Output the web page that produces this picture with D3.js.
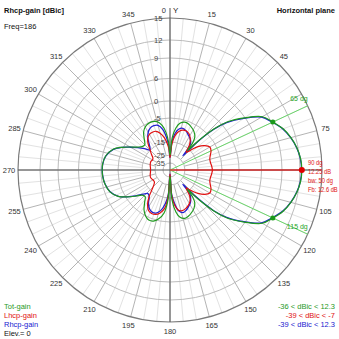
<!DOCTYPE html>
<html><head><meta charset="utf-8">
<script src="https://cdn.jsdelivr.net/npm/d3@7"></script>
<style>html,body{margin:0;padding:0;background:#fff;} text{font-family:'Liberation Sans',Arial,sans-serif;}</style>
</head><body><svg id="c" width="339" height="339"></svg>
<script>
// ---- data (angle in degrees, clockwise from top; gains in dBic) ----
const angles=[0,4,8,12,17,22,27,32,37,40,42,44,47,50,55,60,65,70,75,80,85,90,95,100,105,110,115,120,125,130,133,136,138,140,143,148,153,158,163,168,172,176,180,184,188,193,198,203,208,213,218,223,228,233,238,243,250,258,265,270,275,282,290,295,300,305,310,315,320,325,330,335,340,345,350,354,357];
const totGain=[-25,-13,-9,-6.8,-5.8,-6,-6.8,-7.8,-9.5,-12,-16.5,-10,-2.5,1.5,5.8,8.2,9.25,10.4,11.2,11.8,12.15,12.25,12.15,11.8,11.2,10.4,9.25,8.2,5.8,1.5,-2.5,-10,-16.5,-12,-9.5,-7.8,-6.8,-6,-5.6,-6.5,-9,-14,-36,-14,-8.5,-5.8,-4.5,-4.3,-5,-6.8,-9.5,-11.5,-11,-8.5,-5.5,-3.2,-1.5,-0.7,-0.4,-0.35,-0.4,-0.9,-2.5,-4.5,-7.5,-10,-11.5,-11.8,-10,-7.5,-6,-5.3,-5.2,-5.8,-7.8,-11,-15];
const lhcpGain=[-28,-17,-12.5,-10.5,-9.3,-9,-9.5,-10.8,-13,-15.5,-18,-17,-14,-11.5,-9,-7.5,-7.8,-8.8,-9.5,-9.5,-9.2,-9,-9.2,-9.5,-9.5,-8.8,-7.8,-7.5,-9,-11.5,-13.5,-16,-18,-16,-13,-11,-10,-9.3,-9,-9.5,-11.5,-16,-39,-16,-10.5,-8.3,-7.2,-7,-7.6,-9.5,-12.5,-16.5,-20,-21.5,-21.5,-21,-20.5,-21,-21.5,-21.5,-21.5,-21,-20.5,-20.5,-21,-20.5,-18,-15,-12.5,-10.5,-9.5,-9.3,-9.5,-10.8,-13,-16,-20];
const rhcpGain=[-28,-14.9,-11.2,-9.3,-8.5,-9,-10.1,-11,-12.3,-14.5,-21.8,-11,-2.8,1.28,5.65,8.08,9.16,10.35,11.16,11.77,12.12,12.22,12.12,11.77,11.16,10.35,9.16,8.08,5.65,1.28,-2.86,-11.26,-21.8,-14,-12.4,-10.6,-9.6,-8.6,-8.1,-9.3,-12.4,-17.5,-39,-17.5,-12.5,-9.3,-7.8,-7.6,-8.4,-10.2,-12.6,-13.2,-11.6,-8.7,-5.6,-3.25,-1.53,-0.73,-0.43,-0.38,-0.43,-0.93,-2.57,-4.61,-7.7,-10.4,-12.8,-14.9,-13.4,-10.6,-8.5,-7.3,-7,-7.4,-9.6,-13.2,-17.5];
const ringValues=[15,12,9,6,0,-5,-15,-25,-35];
const ringLabels=["15","12","9","6","0","-5","-15","-25","-35"];
const angleTicks=[15,30,45,75,105,120,135,150,165,180,195,210,225,240,255,270,285,300,315,330,345];
const angleLabels=["15","30","45","75","105","120","135","150","165","180","195","210","225","240","255","270","285","300","315","330","345"];
const maxAngle=90, maxGain=12.25;
const bwAngles=[65,115], bwGain=9.25, bwLabels=["65 dg","115 dg"];
const maxNotes=["90 dg","12.25 dB","bw: 50 dg","Fb: 12.6 dB"];
const legendNames=["Tot-gain","Lhcp-gain","Rhcp-gain"];
const legendRanges=["-36 < dBic < 12.3","-39 < dBic < -7","-39 < dBic < 12.3"];
const seriesColors=["#1f9a1f","#e01010","#2020d0"];

// ---- drawing ----
const svg=d3.select("#c");
svg.append("rect").attr("width",339).attr("height",339).attr("fill","#fff");
const cx=170, cy=170;
const r=d3.scaleLinear().domain([-45,-35,-25,-15,-5,0,6,9,12,15]).range([0,7,15,28,52,69,91.5,112,130,152]).clamp(true);
const R=r(15);
const g=svg.append("g").attr("transform",`translate(${cx},${cy})`);
const rad=a=>a*Math.PI/180;
const px=(a,rr)=>[rr*Math.sin(rad(a)), -rr*Math.cos(rad(a))];

// minor spokes every 5 deg
d3.range(0,360,5).filter(a=>a%15!==0).forEach(a=>{
  const p0=px(a,r(-15)),p1=px(a,R);
  g.append("line").attr("x1",p0[0]).attr("y1",p0[1]).attr("x2",p1[0]).attr("y2",p1[1]).attr("stroke","#e2e2e2").attr("stroke-width",1);
});
// major spokes
d3.range(0,360,15).forEach(a=>{
  const p0=px(a,r(-25)),p1=px(a,R);
  g.append("line").attr("x1",p0[0]).attr("y1",p0[1]).attr("x2",p1[0]).attr("y2",p1[1]).attr("stroke","#b4b4b4").attr("stroke-width",1);
});
// rings
ringValues.forEach((v,i)=>{
  g.append("circle").attr("r",r(v)).attr("fill","none")
   .attr("stroke",i===0?"#7a7a7a":"#bcbcbc").attr("stroke-width",i===0?1.2:1);
});
// axes
g.append("line").attr("x1",0).attr("x2",0).attr("y1",-R-10).attr("y2",R).attr("stroke","#555").attr("stroke-width",1);
g.append("line").attr("x1",-R).attr("x2",R).attr("y1",0).attr("y2",0).attr("stroke","#555").attr("stroke-width",1);

// beamwidth lines
bwAngles.forEach(a=>{
  const p=px(a,R);
  g.append("line").attr("x1",0).attr("y1",0).attr("x2",p[0]).attr("y2",p[1]).attr("stroke","#6bd66b").attr("stroke-width",1);
});

// ring labels
ringValues.forEach((v,i)=>{
  g.append("text").attr("x",-16).attr("y",-r(v)).attr("dy","0.35em").attr("font-size",7.5).attr("fill","#444").text(ringLabels[i]);
});
// angle labels
angleTicks.forEach((a,i)=>{
  const p=px(a,R+9);
  g.append("text").attr("x",p[0]).attr("y",p[1]).attr("dy","0.35em").attr("text-anchor","middle").attr("font-size",7.5).attr("fill","#333").text(angleLabels[i]);
});
g.append("text").attr("x",-4).attr("y",-R-8).attr("dy","0.35em").attr("text-anchor","end").attr("font-size",7.5).attr("fill","#333").text("0");
g.append("text").attr("x",3).attr("y",-R-8).attr("dy","0.35em").attr("font-size",8).attr("fill","#222").text("Y");

// curves
const line=d3.lineRadial().angle(d=>rad(d[0])).radius(d=>r(d[1])).curve(d3.curveCatmullRomClosed.alpha(0.5));
const mk=vals=>angles.map((a,i)=>[a,vals[i]]);
g.append("path").attr("d",line(mk(rhcpGain))).attr("fill","none").attr("stroke",seriesColors[2]).attr("stroke-width",1.3);
g.append("path").attr("d",line(mk(lhcpGain))).attr("fill","none").attr("stroke",seriesColors[1]).attr("stroke-width",1.2);
g.append("path").attr("d",line(mk(totGain))).attr("fill","none").attr("stroke",seriesColors[0]).attr("stroke-width",1.2);

// max marker
const pm=px(maxAngle,r(maxGain));
g.append("line").attr("x1",0).attr("y1",0).attr("x2",pm[0]).attr("y2",pm[1]).attr("stroke","#ff0000").attr("stroke-width",1);
g.append("circle").attr("cx",pm[0]).attr("cy",pm[1]).attr("r",3).attr("fill","#e00000");
bwAngles.forEach((a,i)=>{
  const p=px(a,r(bwGain));
  g.append("circle").attr("cx",p[0]).attr("cy",p[1]).attr("r",2.5).attr("fill","#1a9a1a");
  const q=px(a,R);
  g.append("text").attr("x",q[0]).attr("y",q[1]-5).attr("text-anchor","end").attr("font-size",7).attr("fill","#2aa52a").text(bwLabels[i]);
});
const notes=g.append("g").attr("transform",`translate(${R-14},0) scale(0.8,1)`);
maxNotes.forEach((t,i)=>{
  notes.append("text").attr("x",0).attr("y",-8+i*9.3).attr("dy","0.35em").attr("font-size",7.2).attr("fill","#e01010").text(t);
});

// titles
svg.append("text").attr("x",4).attr("y",13).attr("font-size",7.5).attr("font-weight","bold").attr("fill","#111").text("Rhcp-gain [dBic]");
svg.append("text").attr("x",4).attr("y",29).attr("font-size",7.5).attr("fill","#111").text("Freq=186");
svg.append("text").attr("x",335).attr("y",13).attr("text-anchor","end").attr("font-size",7.5).attr("font-weight","bold").attr("fill","#111").text("Horizontal plane");

// legend
legendNames.forEach((t,i)=>{
  svg.append("text").attr("x",4).attr("y",309+i*9).attr("font-size",7.5).attr("fill",seriesColors[i]).text(t);
  svg.append("text").attr("x",335).attr("y",309+i*9).attr("text-anchor","end").attr("font-size",7.5).attr("fill",seriesColors[i]).text(legendRanges[i]);
});
svg.append("text").attr("x",4).attr("y",336).attr("font-size",7.5).attr("fill","#111").text("Elev.= 0");
</script></body></html>
